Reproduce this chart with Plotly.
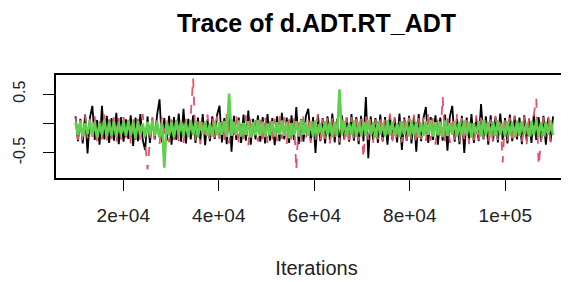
import numpy as np
import plotly.graph_objects as go

# Iteration range of the chains (thinned view)
iter_start = 10001
iter_end = 110000

y_tickvals = [-0.5, 0, 0.5]
y_ticktext = ["-0.5", "", "0.5"]
x_tickvals = [20000, 40000, 60000, 80000, 100000]
x_ticktext = ["2e+04", "4e+04", "6e+04", "8e+04", "1e+05"]

chain1_black = [
    0.12,-0.30,0.08,-0.34,0.15,-0.51,0.10,0.30,-0.28,0.06,-0.36,0.30,-0.27,0.13,-0.33,0.09,-0.29,0.18,-0.35,0.11,
    -0.31,0.07,-0.26,0.14,-0.38,0.10,-0.30,0.16,-0.28,-0.45,0.12,-0.33,0.08,-0.27,0.15,0.41,-0.32,0.09,-0.29,0.13,
    -0.36,0.11,-0.28,0.17,-0.31,0.25,-0.34,0.08,-0.27,0.14,-0.33,0.10,-0.29,0.16,-0.37,0.07,-0.30,0.12,-0.26,0.15,
    0.30,-0.32,0.09,-0.35,0.32,-0.48,0.13,-0.28,0.10,-0.33,0.15,-0.29,0.22,-0.36,0.08,-0.27,0.14,-0.31,0.11,-0.34,
    0.16,-0.29,0.09,-0.37,0.12,-0.30,0.18,-0.27,0.10,-0.33,0.14,-0.28,0.28,-0.35,0.07,-0.31,0.13,0.25,-0.29,0.11,
    -0.50,0.15,-0.30,0.09,-0.34,0.12,-0.28,0.17,-0.32,0.08,-0.36,0.14,-0.27,0.10,-0.31,0.16,-0.29,0.11,-0.35,0.13,
    -0.30,0.45,-0.59,0.12,-0.28,0.09,-0.33,0.15,-0.30,0.11,-0.36,0.14,-0.27,0.08,-0.32,0.17,-0.45,0.10,-0.29,0.13,
    -0.34,0.12,-0.48,0.16,-0.30,0.09,0.28,-0.33,0.11,-0.28,0.14,-0.36,0.10,-0.29,0.15,-0.46,0.12,0.30,-0.31,0.08,
    -0.35,0.13,-0.50,0.10,-0.28,0.16,-0.33,0.09,-0.30,0.33,-0.27,0.12,-0.36,0.14,-0.29,0.11,-0.32,0.17,-0.28,0.09,
    -0.34,0.15,-0.30,0.12,-0.27,0.10,-0.35,0.14,-0.29,0.08,-0.33,0.16,-0.28,0.11,-0.31,0.13,-0.36,0.09,-0.30,0.12,
]

chain2_red = [
    0.10,-0.28,0.06,-0.32,0.14,-0.25,0.08,-0.30,0.12,-0.35,0.05,-0.27,0.15,-0.31,0.07,-0.26,0.11,-0.33,0.09,-0.29,
    0.13,-0.24,0.06,-0.34,0.10,-0.28,0.08,-0.31,0.16,-0.26,-0.78,-0.30,0.11,-0.27,0.07,-0.36,0.12,-0.25,0.09,-0.32,
    0.14,-0.28,0.06,-0.30,0.10,-0.33,0.08,-0.26,0.13,0.77,-0.29,0.11,-0.35,0.07,-0.27,0.15,-0.31,0.09,-0.24,0.12,
    -0.30,0.08,-0.28,0.16,-0.34,0.10,-0.26,0.12,-0.32,0.07,-0.29,0.14,-0.37,0.09,-0.25,0.11,-0.31,0.06,-0.28,0.13,
    -0.33,0.10,-0.27,0.08,-0.30,0.15,-0.26,0.11,-0.35,0.07,-0.29,0.12,-0.79,0.09,-0.31,0.14,-0.27,0.06,-0.33,0.11,
    -0.28,0.16,-0.30,0.08,-0.26,0.12,-0.34,0.10,-0.29,0.07,-0.32,0.13,-0.27,0.09,-0.36,0.11,-0.25,0.15,-0.30,0.08,
    -0.59,0.12,-0.28,0.10,-0.33,0.07,-0.27,0.14,-0.31,0.09,-0.26,0.17,-0.35,0.11,-0.29,0.08,-0.32,0.13,-0.28,0.10,
    -0.30,0.15,-0.34,0.09,-0.27,0.12,-0.31,0.20,-0.29,0.11,-0.36,0.08,-0.26,0.45,-0.30,0.13,-0.33,0.10,-0.28,0.16,
    -0.31,0.09,-0.27,0.12,-0.35,0.08,-0.29,0.14,-0.32,0.10,-0.26,0.11,-0.30,0.07,-0.34,0.13,-0.28,0.09,-0.66,0.12,
    -0.29,0.10,-0.33,0.14,-0.27,0.08,-0.31,0.12,-0.35,0.09,-0.28,0.15,0.42,-0.71,-0.30,0.11,-0.27,0.13,-0.32,0.08,
]

chain3_green = [
    0.02,-0.20,0.04,-0.22,0.01,-0.18,0.05,-0.21,0.03,-0.24,0.00,-0.19,0.06,-0.22,0.02,-0.20,0.04,-0.23,0.01,-0.18,
    0.03,-0.21,0.05,-0.20,0.02,-0.25,0.04,-0.19,0.00,-0.22,0.03,-0.20,0.05,-0.21,0.02,-0.24,0.01,-0.75,0.04,-0.20,
    0.02,-0.23,0.05,-0.19,0.03,-0.21,0.01,-0.22,0.06,-0.20,0.02,-0.24,0.04,-0.18,0.03,-0.21,0.00,-0.22,0.05,-0.20,
    0.02,-0.19,0.04,-0.23,0.51,-0.21,0.03,-0.20,0.05,-0.22,0.01,-0.19,0.04,-0.24,0.02,-0.20,0.06,-0.21,0.03,-0.23,
    0.00,-0.20,0.04,-0.22,0.02,-0.19,0.05,-0.21,0.03,-0.25,0.01,-0.20,0.04,-0.22,0.06,-0.19,0.02,-0.21,0.03,-0.23,
    0.05,-0.20,0.01,-0.22,0.04,-0.19,0.02,-0.24,0.03,-0.21,0.58,-0.20,0.04,-0.22,0.01,-0.19,0.05,-0.23,0.02,-0.20,
    0.03,-0.21,0.06,-0.20,0.02,-0.24,0.04,-0.19,0.01,-0.22,0.05,-0.20,0.03,-0.21,0.00,-0.23,0.04,-0.19,0.02,-0.22,
    0.05,-0.20,0.03,-0.24,0.01,-0.21,0.04,-0.19,0.06,-0.22,0.02,-0.20,0.03,-0.23,0.05,-0.21,0.01,-0.19,0.04,-0.22,
    0.02,-0.20,0.05,-0.21,0.03,-0.24,0.00,-0.19,0.04,-0.22,0.06,-0.20,0.02,-0.23,0.03,-0.21,0.05,-0.19,0.01,-0.22,
    0.04,-0.20,0.02,-0.24,0.05,-0.21,0.03,-0.19,0.01,-0.22,0.04,-0.20,0.06,-0.23,0.02,-0.21,0.03,-0.19,0.05,-0.20,
]

chains = [
    ("chain 1", chain1_black, "#000000", "solid", 1.8),
    ("chain 2", chain2_red, "#DF536B", "dash", 1.8),
    ("chain 3", chain3_green, "#61D04F", "solid", 2.6),
]

fig = go.Figure()
for name, vals, color, dash, width in chains:
    x = np.linspace(iter_start, iter_end, len(vals))
    fig.add_trace(go.Scatter(
        x=x, y=vals, mode="lines", name=name,
        line=dict(color=color, width=width, dash=dash),
        showlegend=False, hoverinfo="skip",
    ))

font_family = "Liberation Sans, Arial, sans-serif"
fig.update_layout(
    width=569, height=282,
    margin=dict(l=48, r=0, t=67, b=112),
    paper_bgcolor="white", plot_bgcolor="white",
    font=dict(family=font_family, color="#000000"),
    title=dict(
        text="<b>Trace of d.ADT.RT_ADT</b>",
        font=dict(size=25, family=font_family, color="#000000"),
        x=0.5, xref="paper", xanchor="center",
        y=1 - 15 / 282, yref="container", yanchor="middle",
    ),
)

fig.update_xaxes(
    range=[5906, 115016], automargin=False,
    tickvals=x_tickvals, ticktext=x_ticktext,
    ticks="outside", ticklen=11, tickwidth=1.3, tickcolor="#000000",
    tickfont=dict(size=19, color="#222222"),
    ticklabelstandoff=8,
    showline=True, linecolor="#000000", linewidth=1.5, mirror=True,
    showgrid=False, zeroline=False,
    title=dict(text="Iterations", font=dict(size=20, color="#222222"), standoff=36),
)
fig.update_yaxes(
    range=[-0.926, 0.824], automargin=False,
    tickvals=y_tickvals, ticktext=y_ticktext,
    ticks="outside", ticklen=11, tickwidth=1.3, tickcolor="#000000",
    tickfont=dict(size=16, color="#222222"), tickangle=-90,
    ticklabelstandoff=12,
    showline=True, linecolor="#000000", linewidth=1.5, mirror=False,
    showgrid=False, zeroline=False,
)

fig.write_html("out.html")
